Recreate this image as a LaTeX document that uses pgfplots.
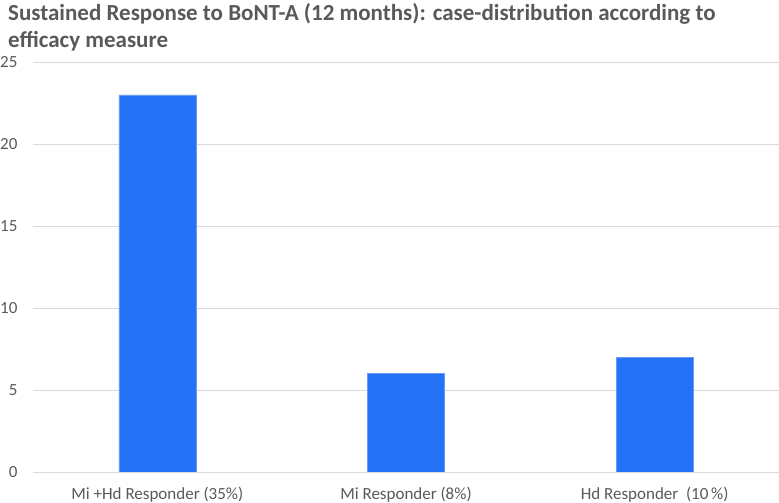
\documentclass[border=0pt]{standalone}
\usepackage{pgfplots}
\pgfplotsset{compat=1.18}
\usepackage{fontspec}
\setmainfont{Carlito}
\definecolor{barblue}{RGB}{36,114,245}
\definecolor{txtgray}{RGB}{89,89,89}
\definecolor{gridgray}{RGB}{217,217,217}
\begin{document}
\begin{tikzpicture}
\useasboundingbox (0,0) rectangle (779bp,503bp);
\node[anchor=north west, align=left, text=txtgray, font=\fontsize{23bp}{27bp}\selectfont\bfseries, inner sep=0pt] at (8bp,500bp)
 {Sustained Response to BoNT-A (12 months): case-distribution according to\\efficacy measure};
\begin{axis}[
  at={(33bp,31bp)}, anchor=south west,
  scale only axis, width=746bp, height=410bp,
  xmin=-0.5, xmax=2.5, ymin=0, ymax=25,
  xtick=data,
  xticklabels={Mi +Hd Responder (35\%), Mi Responder (8\%), Hd Responder\ \ (10\,\%)},
  ytick={0,5,...,25},
  ymajorgrids, grid style={gridgray, line width=0.8pt},
  axis line style={draw=none},
  major tick length=0pt,
  tick label style={text=txtgray, font=\fontsize{17bp}{19bp}\selectfont},
  /pgf/number format/assume math mode=true,
  yticklabel style={xshift=-12bp},
  xticklabel style={yshift=-12bp},
  ybar, bar width=77bp,
]
\addplot[fill=barblue, draw=barblue!70!white] coordinates {(0,23) (1,6) (2,7)};
\end{axis}
\end{tikzpicture}
\end{document}
